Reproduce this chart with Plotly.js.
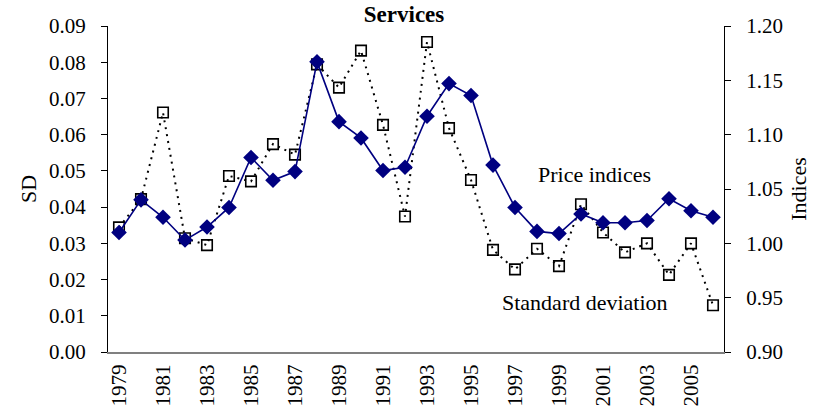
<!DOCTYPE html>
<html>
<head>
<meta charset="utf-8">
<script src="https://cdn.plot.ly/plotly-3.0.1.min.js"></script>
<style>html,body{margin:0;padding:0;background:#fff}#chart{width:813px;height:409px}</style>
</head>
<body>
<div id="chart"></div>
<script>
const years = [1979,1980,1981,1982,1983,1984,1985,1986,1987,1988,1989,1990,1991,1992,1993,1994,1995,1996,1997,1998,1999,2000,2001,2002,2003,2004,2005,2006];
const sdValues = [0.0344,0.0422,0.0661,0.0314,0.0295,0.0486,0.0471,0.0574,0.0545,0.0794,0.0730,0.0832,0.0627,0.0374,0.0856,0.0618,0.0475,0.0282,0.0228,0.0285,0.0237,0.0408,0.0330,0.0275,0.0300,0.0213,0.0300,0.0129];
const priceIndices = [1.010,1.040,1.024,1.003,1.015,1.033,1.079,1.058,1.066,1.167,1.112,1.097,1.067,1.070,1.117,1.147,1.136,1.072,1.033,1.011,1.009,1.027,1.019,1.019,1.021,1.041,1.030,1.024];
const xTickYears = [1979,1981,1983,1985,1987,1989,1991,1993,1995,1997,1999,2001,2003,2005];
const sdTicks = [0,0.01,0.02,0.03,0.04,0.05,0.06,0.07,0.08,0.09];
const idxTicks = [0.90,0.95,1.00,1.05,1.10,1.15,1.20];

const FONT = 'Liberation Serif';
const xr = [years[0]-0.5, years[years.length-1]+0.5];
const tf = () => ({family: FONT, size: 21, color: '#000'});

const traces = [
  {
    x: years, y: sdValues, type: 'scatter', mode: 'lines+markers', name: 'Standard deviation',
    line: {color: '#000', width: 2, dash: '2px,5px'},
    marker: {symbol: 'square-open', size: 10.5, color: '#000', line: {width: 1.6, color: '#000'}},
    xaxis: 'x', yaxis: 'y'
  },
  {
    x: years, y: priceIndices, type: 'scatter', mode: 'lines+markers', name: 'Price indices',
    line: {color: '#000080', width: 1.6},
    marker: {symbol: 'diamond', size: 12, color: '#000080'},
    xaxis: 'x', yaxis: 'y2'
  }
];

const layout = {
  width: 813, height: 409,
  margin: {l: 108, r: 89, t: 26, b: 57},
  paper_bgcolor: '#fff', plot_bgcolor: '#fff',
  showlegend: false,
  font: {family: FONT, color: '#000', size: 21},
  title: {text: '<b>Services</b>', font: {family: FONT, size: 23, color: '#000'}, x: 0.497, xref: 'container', y: 0.965, yref: 'container', yanchor: 'middle'},
  xaxis: {
    range: xr, showgrid: false, zeroline: false,
    showline: true, linecolor: '#808080', linewidth: 2,
    tickmode: 'array', tickvals: xTickYears, ticktext: xTickYears.map(String),
    ticks: '', tickangle: -90, tickfont: tf(), ticklabelstandoff: 2
  },
  xaxis2: {
    range: xr, overlaying: 'x', anchor: 'y', side: 'bottom', showgrid: false, zeroline: false,
    showline: false, showticklabels: false,
    tickmode: 'linear', tick0: xr[0], dtick: 1, ticks: 'outside', ticklen: 7, tickcolor: '#000', tickwidth: 1
  },
  xaxis3: {
    range: xr, overlaying: 'x', anchor: 'y', side: 'bottom', showgrid: false, zeroline: false,
    showline: false, showticklabels: false,
    tickmode: 'linear', tick0: xr[0], dtick: 1, ticks: 'inside', ticklen: 7, tickcolor: '#000', tickwidth: 1
  },
  yaxis: {
    range: [0, 0.09], showgrid: false, zeroline: false,
    showline: true, linecolor: '#000', linewidth: 1,
    tickmode: 'array', tickvals: sdTicks, tickformat: '.2f',
    ticks: 'outside', ticklen: 6, tickcolor: '#000', tickfont: tf(), ticklabelstandoff: 11,
    title: {text: 'SD', font: {family: FONT, size: 22, color: '#000'}, standoff: 6}
  },
  yaxis2: {
    range: [0.9, 1.2], overlaying: 'y', side: 'right', anchor: 'x', showgrid: false, zeroline: false,
    showline: true, linecolor: '#000', linewidth: 1,
    tickmode: 'array', tickvals: idxTicks, tickformat: '.2f',
    ticks: 'outside', ticklen: 6, tickcolor: '#000', tickfont: tf(), ticklabelstandoff: 11,
    title: {text: 'Indices', font: {family: FONT, size: 22, color: '#000'}, standoff: 8}
  },
  yaxis3: {
    range: [0, 0.09], overlaying: 'y', side: 'left', anchor: 'x', showgrid: false, zeroline: false,
    showline: false, showticklabels: false,
    tickmode: 'array', tickvals: sdTicks, ticks: 'inside', ticklen: 6, tickcolor: '#000'
  },
  yaxis4: {
    range: [0.9, 1.2], overlaying: 'y', side: 'right', anchor: 'x', showgrid: false, zeroline: false,
    showline: false, showticklabels: false,
    tickmode: 'array', tickvals: idxTicks, ticks: 'inside', ticklen: 6, tickcolor: '#000'
  },
  annotations: [
    {text: 'Price indices', xref: 'x', yref: 'y2', x: 2000.6, y: 1.063, showarrow: false, font: {family: FONT, size: 22, color: '#000'}},
    {text: 'Standard deviation', xref: 'x', yref: 'y', x: 2000.2, y: 0.0138, showarrow: false, font: {family: FONT, size: 22, color: '#000'}}
  ]
};

Plotly.newPlot('chart', traces, layout, {staticPlot: true, displayModeBar: false});
</script>
</body>
</html>
